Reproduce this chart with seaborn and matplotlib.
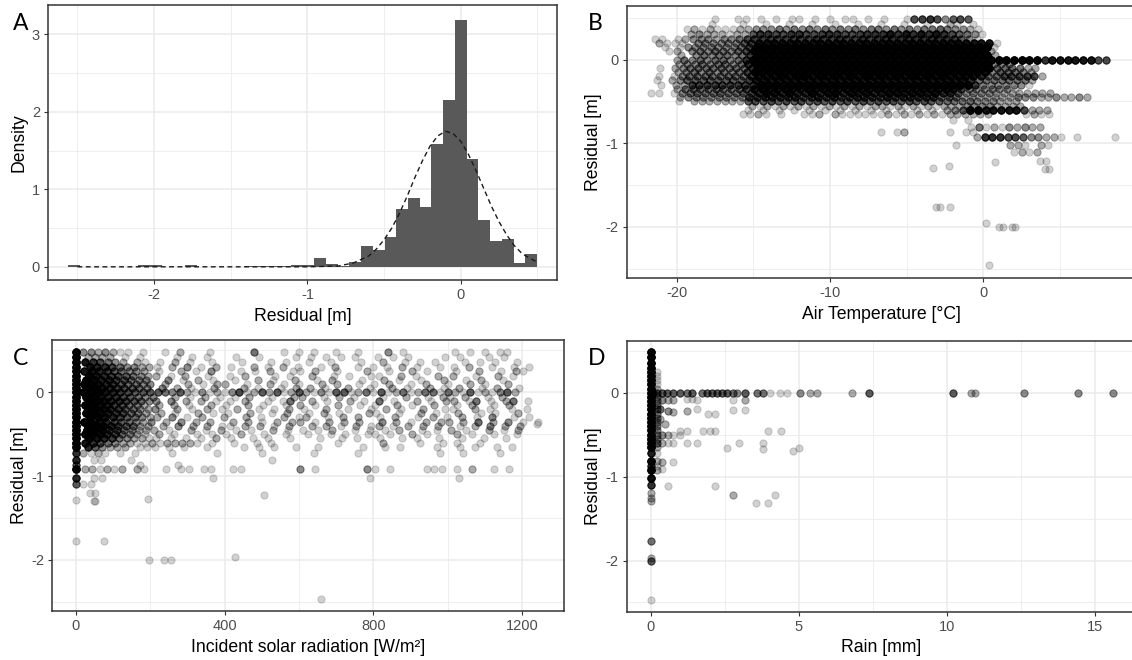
# Residual diagnostics: histogram + residuals vs. weather drivers (4 panels)

import numpy as np
import matplotlib
matplotlib.use("Agg")
import matplotlib.pyplot as plt
import seaborn as sns

# ---------------- data ----------------

# Panel A: histogram (density per bin, bins of width 0.0765 centred on 0)
HIST_BIN_WIDTH = 0.0765
HIST_BIN_INDEX = list(range(-33, 7))
HIST_DENSITY = [0.02, 0, 0, 0, 0, 0, 0.02, 0.02, 0, 0,
                0.02, 0, 0, 0, 0, 0.01, 0.01, 0.01, 0.01, 0.02,
                0.02, 0.11, 0.04, 0.01, 0.06, 0.27, 0.22, 0.38, 0.74, 0.89,
                0.77, 1.59, 2.15, 3.19, 1.39, 0.60, 0.33, 0.36, 0.05, 0.17]

# dashed normal curve
CURVE_X = [-2.5, -2.0, -1.5, -1.0, -0.8, -0.7, -0.6, -0.55, -0.5, -0.45, -0.4,
           -0.35, -0.3, -0.25, -0.2, -0.15, -0.1, -0.05, 0.0, 0.05, 0.1, 0.15,
           0.2, 0.25, 0.3, 0.35, 0.4, 0.45, 0.5]
CURVE_Y = [0, 0, 0, 0, 0.01, 0.05, 0.14, 0.23, 0.35, 0.50, 0.69,
           0.91, 1.15, 1.37, 1.56, 1.69, 1.75, 1.72, 1.62, 1.45, 1.24, 1.01,
           0.78, 0.58, 0.41, 0.27, 0.17, 0.11, 0.06]

# residual levels used by the point-count grids of panels B, C, D
LEVELS = [0.48, 0.42, 0.36, 0.30, 0.25, 0.20, 0.15, 0.10, 0.05, 0.00,
          -0.05, -0.10, -0.15, -0.20, -0.25, -0.30, -0.35, -0.40, -0.45, -0.50,
          -0.55, -0.60, -0.65, -0.72, -0.81, -0.87, -0.92, -1.02, -1.10]
# horizontal offset of each level's cells, as a fraction of a column
ROW_SHIFT = [0.0, 0.6, 0.3, 0.9, 0.15, 0.75, 0.45, 0.05, 0.55, 0.0,
             0.35, 0.8, 0.2, 0.65, 0.4, 0.95, 0.1, 0.7, 0.5, 0.25,
             0.85, 0.3, 0.6, 0.0, 0.4, 0.7, 0.2, 0.5, 0.0]

# point counts per cell: ' '=0, 1-9, a=12, #=18 ; groups of 10 columns split by '|'
COUNT = {str(i): i for i in range(1, 10)}
COUNT.update({"a": 12, "#": 18})

# Panel B: columns are air temperature -22 .. 8.5 degC in 0.5 steps
B_TEMP_START, B_TEMP_STEP, B_NCOLS = -22.0, 0.5, 62
B_DENSITY = [
    "         1|  11 1 1 1|1 1 1 11 1| 1  167863|565",
    "        1 |  1  1  1 | 1  1  1  |1  1  1  2|1 1",
    "     12121|1122333434|3434343434|4343434454|3321",
    "     23222|1225886688|6678866788|8a8a8a8a86|5431",
    " 11 123332|3346777777|7787787787|8888888888|7531",
    " 2111 3333|3356aaaaaa|aaaaaaaaaa|aaaaaaaaaa|aaaaa1",
    "  1 133333|3346######|##########|##########|#####1",
    "   12 3434|4346######|##########|##########|#####2",
    "    2 3434|4347######|##########|##########|#####2",
    "    243434|4348######|##########|##########|##########|##8aaaaaa6|6",
    "    233434|4348######|##########|##########|#####333",
    " 1 2344444|4448######|##########|##########|#####44442|2",
    "    234343|4347######|##########|##########|####a35443|2",
    " 1 1344444|4447aaa#a#|#a#a#a#a#a|#a#a#a#a#a|aaa8446666|62",
    " 1 2355555|5557aaaaaa|aaaaaaaaaa|aaaaaaaaaa|aa84444444|2",
    " 1 2277777|7778######|##########|##########|##73333331",
    "    244444|4446aaaaaa|aaaaaaaaaa|aaaaaaaaaa|a63333331",
    "11 1344444|44468aa8a8|8a8aa8a8a8|8aa8aa8a88|5333322222|222",
    "    233333|3336787878|6787867878|6878787844|4222222233|32232232",
    "    1 2222|2225656565|6565656565|6565656554|444333222",
    "          |   2121212|1212121212|2121212122|233332222",
    "          |   1 1 1 1| 1 1 1 1 1| 1 1 1 1 2|35##aaaaa6|222",
    "          |  1121 1  |112 211111|1212121212|22222    1|211",
    "          |          |          |          |1 1",
    "          |          |          |          |  14121323|22",
    "          |          |          |1 12     1| 11",
    "          |          |          |          |   2888665|33221 1   | 1",
    "          |          |          |          |1      221| 21",
    "          |          |          |          |        12|12",
]
B_OUT_TEMP = [-3.26, -2.24, 0.76, 3.7, 4.1, 4.0, 4.3, -3.1, -2.8, -2.2, 0.2, 1.0, 1.3, 1.9, 2.1, 0.37]
B_OUT_RESID = [-1.29, -1.27, -1.22, -1.21, -1.21, -1.31, -1.31, -1.76, -1.76, -1.76, -1.95, -2.0, -2.0, -2.0, -2.0, -2.46]

# Panel C: columns are solar radiation 0 .. 1260 W/m2 in 20 steps
C_RAD_START, C_RAD_STEP, C_NCOLS = 0.0, 20.0, 64
C_DENSITY = [
    "#3323211 1|  1 2   1 |    4   1 |1 1  1  1 |  3 1     | 1 1 1 11 |",
    "#2222 1 1 |   1 1 1  | 1  1    1| 1 1 1 1  |1 1 1    1| 1   1 1  |",
    "#a86432 21| 1 2 1  1 |  1   1 1 | 1  1   1 | 2  1 1 1 |  1 1 1  1|",
    "#a98643322|1 2 3 1 2 |1  2 1 2 1|  1 2  1 1| 1 2 1  1 |1 2  1  1 |1",
    "#aa9754332| 1  2 1 3 |  1 1 2  1|1 2  1   2|  1  2 1  | 1  2  1 2|1",
    "##a9765432|2 1 2  1  |1 2   1 1 | 2  1 1  1|1  2 1  2 |2  1  2 1 |",
    "##a9865433|  3 1 2 1 | 1  2 1  2|  1 2   1 | 2 1  1  2|  1 2  1  |",
    "###a975443|3 2  2 1 2|2  1  2 1 |1  2 2  1 |1 2  1 2  |1  2 1  2 |",
    "###a976543| 3 2 1  2 |  2 1  1 2| 2 1  2  1|  2 1  2 1| 2  1 2  1|",
    "####a97655|5543521312|1361252512|5213155124|1512412441|4215121352|",
    "###a986543|3  2 1 2 1| 1 2  1  2|2  1 2 1  | 1  2  1 2|1 2  1 2  |",
    "###a986543|3 3 2 2 1 |1 2  1 14 | 2 1  2 1 |4 1  2 1 2|2 14 1 24 |1",
    "###a975432| 2 2 1  2 |1  2 1  1 |2 1  2  1 |1  2 1  2 | 1 2  1 2 |",
    "###a975432|3  2 1 2 1| 2  1 1 2 |1  2  1  1| 2 1  2  1|1  2 1  1 |1",
    "###a965432| 2 1  2 1 |1  2  1 2 | 1 2 1   2|1  1  2 1 | 2  1 1  2|",
    "###a965432|2 3 1 2  2|  2 1  2 1|2  1 2 2  |1 2  1 2 1| 2 1 3  1 |1",
    "###a965432|3 2 3 2 2 | 2 2 1 2 2|2 1 2 2 2 | 3 2 1 2 2|2 2 4 2 3 |1 1",
    "###a965422| 2 3 2 2 1|1 2 2 1 2 | 2 2 1 2 1|2 1 2 2 2 | 1 2 3 2 2|",
    "###a864322|2 1  2 1 2| 1 1  2 1 |1 1 2  1 1| 1 2  1 1 |2 1  2 1 2|",
    "###a864321| 2 1  1 1 |1 2  1  1 | 1  1 1  1|1 1  2 1  | 2 1  1  1|",
    "##a9743221|1 1 1 1 2 |1  1 1  1 |  1  1 1  |1  1 1  1 | 1  1  1  |",
    "#a86432211|2122221 1 | 1  1 1   |     1    | 2    1  1| 1  1     |",
    "#953222 11|1 1 1  1  |  1 1 1  1|  1     1 | 1 1    1 | 1 1  1 1 |",
    "82121 1 1 |   1     1|     1    |  1     1 |         1|  1    1  |",
    "9 11   1  |          |      1   |          |          |          |",
    "5       1 |   1      |          |          |          |          |",
    "#221212 21|  1 11 11 | 11       |3 1      3|1 1    111| 1 2  1 1 |",
    "9 11      |        1 |          |         1|          | 1        |",
    "511       |          |          |          |          |          |",
]
C_OUT_RAD = [0, 50, 52, 39, 52, 195, 507, 0, 75, 427, 197, 236, 256, 658, 1241]
C_OUT_RESID = [-1.29, -1.30, -1.30, -1.20, -1.20, -1.27, -1.22, -1.77, -1.77, -1.96, -2.0, -2.0, -2.0, -2.47, -0.38]

# Panel D: rain = 0 column and rain ~0.2 column, counts per residual level
D_ZERO_COUNTS = [18, 18, 18, 18, 18, 18, 18, 18, 18, 18, 18, 18, 18, 18, 18,
                 18, 18, 18, 18, 18, 18, 18, 18, 10, 18, 8, 18, 14, 8]
D_NEAR_RAIN = 0.2
D_NEAR_COUNTS = [0, 0, 0, 0, 1, 1, 1, 1, 2, 0, 3, 3, 3, 4, 3,
                 3, 3, 3, 3, 3, 3, 4, 2, 1, 2, 1, 2, 0, 0]
# remaining points: rain [mm], residual [m], number of stacked points
D_RAIN = [0.09, 0.2, 0.37, 0.54, 0.76, 0.99, 1.21, 1.38, 1.72, 1.89, 2.06, 2.23, 2.39,
          2.56, 2.79, 2.9, 3.18, 3.57, 3.8, 4.02, 4.36, 4.59, 5.04, 5.37, 5.6, 6.8,
          7.37, 10.18, 10.79, 10.95, 12.6, 14.4, 15.58,
          0.37, 0.6, 0.76, 1.21, 1.38, 1.55, 2.79, 3.18,
          0.31, 0.6, 0.76, 1.21, 1.55, 1.94, 2.17, 2.79, 3.18,
          0.31, 0.48, 0.99, 1.21, 1.78, 2.0, 2.17, 3.97, 4.38,
          0.37, 0.6, 0.76, 0.99,
          0.37, 0.6, 0.76, 1.21, 1.55, 2.99, 2.56, 3.8, 3.8, 4.79, 5.01,
          0.37, 0.76, 0.37, 0.6, 2.17, 2.79, 3.55, 3.97, 4.19,
          0, 0, 0, 0, 0, 0, 0]
D_RESID = [0, 0, 0, 0, 0, 0, 0, 0, 0, 0, 0, 0, 0,
           0, 0, 0, 0, 0, 0, 0, 0, 0, 0, 0, 0, 0,
           0, 0, 0, 0, 0, 0, 0,
           -0.09, -0.09, -0.09, -0.07, -0.08, -0.09, -0.09, -0.09,
           -0.19, -0.22, -0.23, -0.22, -0.20, -0.25, -0.25, -0.21, -0.21,
           -0.31, -0.37, -0.46, -0.46, -0.46, -0.46, -0.46, -0.46, -0.46,
           -0.51, -0.50, -0.51, -0.50,
           -0.60, -0.60, -0.60, -0.60, -0.60, -0.60, -0.66, -0.60, -0.67, -0.70, -0.66,
           -0.82, -0.82, -0.91, -1.11, -1.11, -1.22, -1.32, -1.32, -1.22,
           -1.20, -1.25, -1.29, -1.77, -1.97, -2.0, -2.47]
D_N = [5, 5, 5, 5, 5, 5, 4, 5, 4, 5, 5, 5, 5,
       5, 4, 3, 5, 4, 4, 1, 1, 1, 3, 2, 2, 2,
       5, 5, 2, 2, 3, 3, 3,
       3, 2, 2, 1, 1, 1, 1, 2,
       4, 3, 2, 2, 1, 1, 1, 1, 1,
       2, 2, 1, 1, 1, 1, 1, 1, 1,
       3, 2, 1, 1,
       2, 1, 1, 1, 1, 1, 1, 1, 1, 1, 1,
       2, 1, 1, 1, 1, 2, 1, 1, 1,
       2, 2, 2, 4, 2, 5, 1]


def expand_grid(rows, start, step, ncols, pin_first=False):
    xs, ys = [], []
    for k, (lev, row) in enumerate(zip(LEVELS, rows)):
        cells = "".join(g.ljust(10) for g in row.split("|"))[:ncols]
        for i, ch in enumerate(cells):
            n = COUNT.get(ch, 0)
            shift = 0.0 if (pin_first and i == 0) else ROW_SHIFT[k] * step
            xs += [start + step * i + shift] * n
            ys += [lev] * n
    return xs, ys


# ---------------- figure ----------------
sns.set_theme(style="white")
plt.rcParams["font.family"] = ["Liberation Sans", "DejaVu Sans"]
plt.rcParams["axes.unicode_minus"] = False

fig = plt.figure(figsize=(11.32, 6.60), dpi=100)
axA = fig.add_axes([0.0427, 0.5758, 0.4497, 0.4167])
axB = fig.add_axes([0.5536, 0.5788, 0.4504, 0.4121])
axC = fig.add_axes([0.0462, 0.0742, 0.4519, 0.4106])
axD = fig.add_axes([0.5536, 0.0732, 0.4497, 0.4106])

GRID = "#EBEBEB"
TICK_COL = "#4D4D4D"


def style(ax, xlim, ylim, xmaj, xmin, ymaj, ymin, xlabel, ylabel, ylab_x):
    ax.set_xlim(xlim)
    ax.set_ylim(ylim)
    ax.set_xticks(xmaj)
    ax.set_xticks(xmin, minor=True)
    ax.set_yticks(ymaj)
    ax.set_yticks(ymin, minor=True)
    ax.set_facecolor("white")
    ax.grid(which="major", color=GRID, lw=1.1)
    ax.grid(which="minor", color=GRID, lw=0.6)
    ax.set_axisbelow(True)
    for s in ax.spines.values():
        s.set_visible(True)
        s.set_color("#333333")
        s.set_linewidth(1.1)
    ax.tick_params(which="major", direction="out", length=3, width=0.8, color="#333333",
                   labelcolor=TICK_COL, labelsize=10.5, pad=3, bottom=True, left=True)
    ax.tick_params(which="minor", length=0, bottom=False, left=False)
    ax.set_xlabel(xlabel, fontsize=12.7, color="black", va="center")
    ax.set_ylabel(ylabel, fontsize=12.7, color="black", va="center")
    ax.xaxis.set_label_coords(0.5, -0.133)
    ax.yaxis.set_label_coords(ylab_x, 0.5)


# --- A: histogram with normal curve
centers = [HIST_BIN_WIDTH * k for k in HIST_BIN_INDEX]
edges = [c - HIST_BIN_WIDTH / 2 for c in centers] + [centers[-1] + HIST_BIN_WIDTH / 2]
sns.histplot(x=centers, weights=HIST_DENSITY, bins=edges, stat="count", ax=axA,
             color="#595959", alpha=1, edgecolor="none", linewidth=0)
sns.lineplot(x=CURVE_X, y=CURVE_Y, ax=axA, color="#1a1a1a", lw=1.0,
             linestyle=(0, (3.5, 2.5)))
style(axA, (-2.69, 0.63), (-0.17, 3.38), [-2, -1, 0], [-2.5, -1.5, -0.5, 0.5],
      [0, 1, 2, 3], [0.5, 1.5, 2.5], "Residual [m]", "Density", -0.058)

PT = dict(color="black", edgecolor="black", alpha=0.18, s=27, linewidth=0.7, legend=False)
RES_MAJ, RES_MIN = [-2, -1, 0], [-2.5, -1.5, -0.5, 0.5]

# --- B: temperature
bx, by = expand_grid(B_DENSITY, B_TEMP_START, B_TEMP_STEP, B_NCOLS)
sns.scatterplot(x=bx + B_OUT_TEMP, y=by + B_OUT_RESID, ax=axB, **PT)
style(axB, (-23.26, 10.0), (-2.61, 0.64), [-20, -10, 0], [-15, -5, 5],
      RES_MAJ, RES_MIN, "Air Temperature [°C]", "Residual [m]", -0.0645)

# --- C: solar radiation
cx, cy = expand_grid(C_DENSITY, C_RAD_START, C_RAD_STEP, C_NCOLS, pin_first=True)
sns.scatterplot(x=cx + C_OUT_RAD, y=cy + C_OUT_RESID, ax=axC, **PT)
style(axC, (-62.9, 1312), (-2.61, 0.624), [0, 400, 800, 1200], [200, 600, 1000],
      RES_MAJ, RES_MIN, "Incident solar radiation [W/m²]", "Residual [m]", -0.065)

# --- D: rain
dx, dy = [], []
for lev, n0, n1 in zip(LEVELS, D_ZERO_COUNTS, D_NEAR_COUNTS):
    dx += [0.0] * n0 + [D_NEAR_RAIN] * n1
    dy += [lev] * (n0 + n1)
for r, e, n in zip(D_RAIN, D_RESID, D_N):
    dx += [r] * n
    dy += [e] * n
sns.scatterplot(x=dx, y=dy, ax=axD, **PT)
style(axD, (-0.81, 16.36), (-2.61, 0.62), [0, 5, 10, 15], [2.5, 7.5, 12.5],
      RES_MAJ, RES_MIN, "Rain [mm]", "Residual [m]", -0.0645)

# panel letters
for txt, x, y in [("A", 0.0112, 0.9545), ("B", 0.5194, 0.9545),
                  ("C", 0.0112, 0.447), ("D", 0.5194, 0.447)]:
    fig.text(x, y, txt, fontsize=16.5, color="black",
             family=["Lato", "DejaVu Sans"], va="baseline")

fig.savefig("out.png", dpi=100)
